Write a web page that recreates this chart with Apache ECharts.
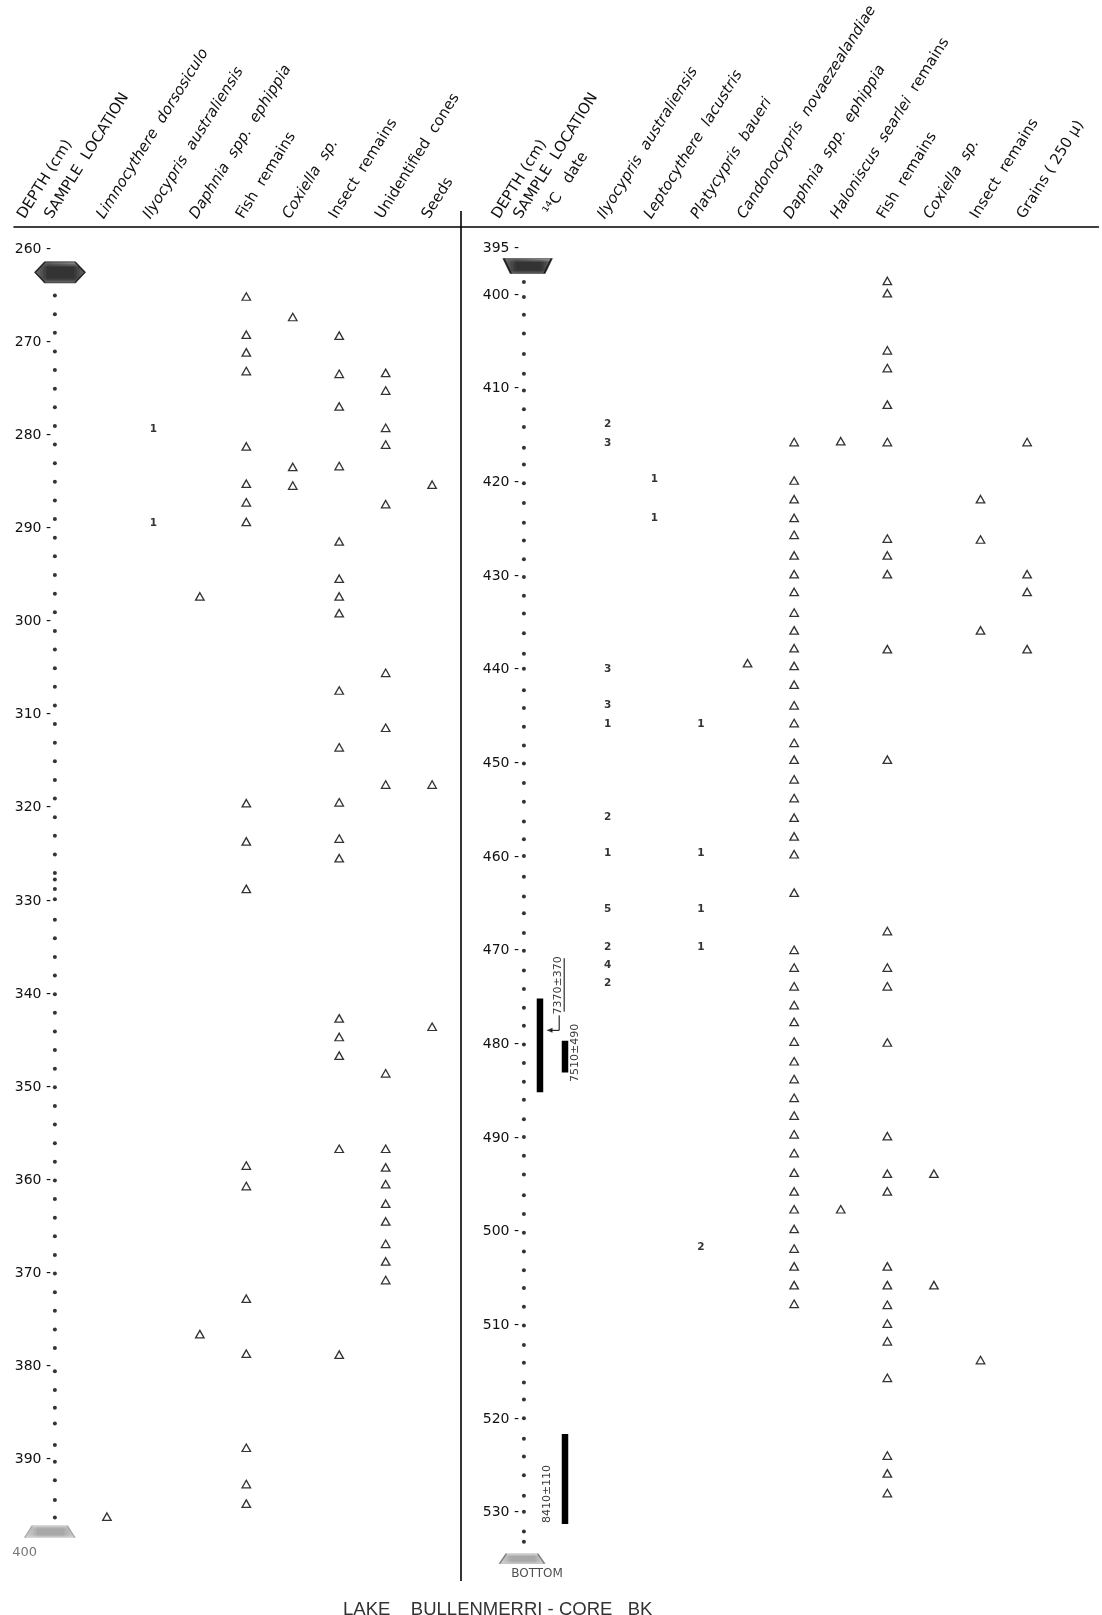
<!DOCTYPE html>
<html><head><meta charset="utf-8">
<script src="https://cdn.jsdelivr.net/npm/echarts@6/dist/echarts.min.js"></script>
<style>html,body{margin:0;padding:0;background:#fff}#c{width:1102px;height:1615px}</style>
</head><body><div id="c"></div>
<script>
// ================= DATA =================
// ---- Left section (260–400 cm) ----
const leftHeaders = ['DEPTH (cm)', 'SAMPLE  LOCATION', '{i|Limnocythere  dorsosiculo}', '{i|Ilyocypris  australiensis}',
  '{i|Daphnia  spp.  ephippia}', 'Fish  remains', '{i|Coxiella  sp.}', 'Insect  remains', 'Unidentified  cones', 'Seeds'];
const leftDepthTicks = [260,270,280,290,300,310,320,330,340,350,360,370,380,390,400];
const leftSamples = [265,267,269,271,273,275,277,279,281,283,285,287,289,291,293,295,297,299,301,303,305,307,309,311,313,315,317,319,321,323,325,327,327.7,328.7,329.8,332,334,336,338,340,342,344,346,348,350,352,354,356,358,360,362,364,366,368,370,372,374,376,378,380.5,382.5,384.4,386.1,388.4,390.2,392.2,394.3,396.2];
const leftLimnocythere = [396.1];
const leftIlyocyprisCounts = [[279.4,1],[289.4,1]];
const leftDaphnia = [297.3,376.5];
const leftFish = [265.1,269.2,271.1,273.1,281.2,285.2,287.2,289.3,319.5,323.6,328.7,358.4,360.6,372.7,378.6,388.7,392.6,394.7];
const leftCoxiella = [267.3,283.4,285.4];
const leftInsect = [269.3,273.4,276.9,283.3,291.4,295.4,297.3,299.1,307.4,313.5,319.4,323.3,325.4,342.6,344.6,346.6,356.6,378.7];
const leftCones = [273.3,275.2,279.2,281.0,287.4,305.5,311.4,317.5,348.5,356.6,358.6,360.4,362.5,364.4,366.8,368.7,370.7];
const leftSeeds = [285.3,317.5,343.5];

// ---- Right section (395–535 cm) ----
const rightHeaders = ['DEPTH (cm)', 'SAMPLE  LOCATION', ' \u00b9\u2074C   date', '{i|Ilyocypris  australiensis}',
  '{i|Leptocythere  lacustris}', '{i|Platycypris  baueri}', '{i|Candonocypris  novaezealandiae}', '{i|Daphnia  spp.  ephippia}',
  '{i|Haloniscus  searlei}  remains', 'Fish  remains', '{i|Coxiella  sp.}', 'Insect  remains', 'Grains ( 250 \u00b5)'];
const rightDepthTicks = [395,400,410,420,430,440,450,460,470,480,490,500,510,520,530];
const rightSamples = [398.6,400.2,402.1,404.1,406.3,408.4,410.2,412.2,414.1,416.3,418.1,420.1,422.2,424.3,426.2,428.2,430.1,432.1,434.0,436.1,438.3,439.9,442.2,444.1,446.1,448.1,450.0,452.1,454.1,456.2,458.1,459.9,462.1,464.2,466.0,468.1,470.0,472.1,474.1,476.1,478.0,480.0,482.0,484.0,485.9,488.0,489.9,491.9,493.9,496.1,498.1,500.1,502.1,504.1,506.0,508.0,510.0,512.1,514.0,516.1,517.9,519.9,522.1,524.0,526.0,528.2,529.9,532.0,533.1];
const rightIlyocyprisCounts = [[413.8,2],[415.8,3],[439.9,3],[443.8,3],[445.8,1],[455.7,2],[459.6,1],[465.6,5],[469.6,2],[471.5,4],[473.5,2]];
const rightLeptocythereCounts = [[419.7,1],[423.8,1]];
const rightPlatycyprisCounts = [[445.8,1],[459.6,1],[465.6,1],[469.6,1],[501.7,2]];
const rightCandonocypris = [439.3];
const rightDaphnia = [415.7,419.8,421.8,423.8,425.6,427.8,429.8,431.7,433.9,435.8,437.7,439.6,441.6,443.8,445.7,447.8,449.6,451.7,453.7,455.8,457.8,459.7,463.8,469.9,471.8,473.8,475.8,477.6,479.7,481.8,483.7,485.7,487.6,489.6,491.6,493.7,495.7,497.6,499.7,501.8,503.7,505.7,507.7];
const rightHaloniscus = [415.6,497.6];
const rightFish = [398.5,399.8,405.9,407.8,411.7,415.7,426.0,427.8,429.8,437.8,449.6,467.9,471.8,473.8,479.8,489.8,493.8,495.7,503.7,505.7,507.8,509.8,511.7,515.6,523.9,525.8,527.9];
const rightCoxiella = [493.8,505.7];
const rightInsect = [421.8,426.1,435.8,513.7];
const rightGrains = [415.7,429.8,431.7,437.8];
// 14C dates: depth range of each dated interval
const c14Labels = ['7370\u00b1370', '7510\u00b1490', '8410\u00b1110'];
const c14Top = [475.1, 479.6, 521.6];
const c14Bottom = [485.1, 483.0, 531.2];

const titleText = 'LAKE    BULLENMERRI - CORE   BK';

// ================= LAYOUT (column positions, in column units) =================
const L = {depth:-1.71, sample:-1.12, limno:0, ilyo:1, daph:2, fish:3, cox:4, insect:5, cones:6, seeds:7};
const R = {depth:-2.27, sample:-1.80, c14:-1.22, ilyo:0, lepto:1, platy:2, cando:3, daph:4, halo:5, fish:6, cox:7, insect:8, grains:9};
const leftHeaderPos = [L.depth, L.sample, L.limno, L.ilyo, L.daph, L.fish, L.cox, L.insect, L.cones, L.seeds];
const rightHeaderPos = [R.depth, R.sample, R.c14, R.ilyo, R.lepto, R.platy, R.cando, R.daph, R.halo, R.fish, R.cox, R.insect, R.grains];
const c14Layout = [{bar:-1.455, tx:-1.06, ty:473.7}, {bar:-0.918, tx:-0.704, ty:480.9}, {bar:-0.918, tx:-1.305, ty:528.0}];

const FONT = 'DejaVu Sans';
function hatch(dark){
  const c=document.createElement('canvas'); c.width=c.height=dark?4:5;
  const g=c.getContext('2d'); g.fillStyle='#fff'; g.fillRect(0,0,c.width,c.height);
  g.strokeStyle=dark?'#000':'#777'; g.lineWidth=dark?1.3:0.8;
  g.beginPath(); g.moveTo(0,0); g.lineTo(c.width,c.height); g.moveTo(c.width,0); g.lineTo(0,c.height); g.stroke();
  return c;
}
const darkPat = {image:hatch(true), repeat:'repeat'};
const lightPat = {image:hatch(false), repeat:'repeat'};

function tri(xi, col, arr){
  return {type:'scatter', xAxisIndex:xi, yAxisIndex:xi, clip:false, silent:true,
    symbol:'triangle', symbolSize:[8.5,7.5],
    itemStyle:{color:'#fff', borderColor:'#000', borderWidth:1.3},
    data: arr.map(d=>[col,d])};
}
function counts(xi, col, arr){
  return {type:'scatter', xAxisIndex:xi, yAxisIndex:xi, clip:false, silent:true,
    symbolSize:1, itemStyle:{color:'rgba(0,0,0,0)'},
    label:{show:true, position:'inside', formatter:p=>String(p.value[2]), fontFamily:FONT, fontSize:10.5, fontWeight:'bold', color:'#000'},
    data: arr.map(([d,n])=>[col,d,n])};
}
function dots(xi, col, arr){
  return {type:'scatter', xAxisIndex:xi, yAxisIndex:xi, clip:false, silent:true,
    symbol:'circle', symbolSize:4, itemStyle:{color:'#000'}, data: arr.map(d=>[col,d])};
}
function headerLabel(names, pos){
  return {show:true, customValues:pos, rotate:-58, align:'left', verticalAlign:'bottom', margin:5,
    fontFamily:FONT, fontSize:15, color:'#111',
    formatter:(v)=>{const k=pos.findIndex(p=>Math.abs(p-v)<1e-6); return k<0?'':names[k];},
    rich:{i:{fontFamily:FONT, fontSize:15, fontStyle:'italic', color:'#111'}}};
}
function depthLabel(ticks, last){
  return {show:true, customValues:ticks, margin:2, fontFamily:FONT, fontSize:14, color:'#111',
    formatter:(v)=> (last && v===last) ? '{f|'+v+'}' : v+' -',
    rich:{f:{fontFamily:FONT, fontSize:13, color:'#777', padding:[0,14,0,0]}}};
}

const series = [
  dots(0, L.sample, leftSamples),
  tri(0, L.limno, leftLimnocythere),
  counts(0, L.ilyo, leftIlyocyprisCounts),
  tri(0, L.daph, leftDaphnia),
  tri(0, L.fish, leftFish),
  tri(0, L.cox, leftCoxiella),
  tri(0, L.insect, leftInsect),
  tri(0, L.cones, leftCones),
  tri(0, L.seeds, leftSeeds),
  dots(1, R.sample, rightSamples),
  counts(1, R.ilyo, rightIlyocyprisCounts),
  counts(1, R.lepto, rightLeptocythereCounts),
  counts(1, R.platy, rightPlatycyprisCounts),
  tri(1, R.cando, rightCandonocypris),
  tri(1, R.daph, rightDaphnia),
  tri(1, R.halo, rightHaloniscus),
  tri(1, R.fish, rightFish),
  tri(1, R.cox, rightCoxiella),
  tri(1, R.insect, rightInsect),
  tri(1, R.grains, rightGrains),
  // core top / bottom markers
  {type:'scatter', xAxisIndex:0, yAxisIndex:0, clip:false, silent:true,
   symbol:'path://M0,5 L4,0 L16,0 L20,5 L16,10 L4,10 Z', symbolSize:[50,21], symbolKeepAspect:false,
   itemStyle:{color:darkPat, borderColor:'#000', borderWidth:1.2}, data:[[-1.01,262.5]]},
  {type:'scatter', xAxisIndex:0, yAxisIndex:0, clip:false, silent:true,
   symbol:'path://M3,0 L17,0 L20,10 L0,10 Z', symbolSize:[50,12], symbolKeepAspect:false,
   itemStyle:{color:lightPat, borderColor:'#999', borderWidth:0.8}, data:[[-1.23,397.7]]},
  {type:'scatter', xAxisIndex:1, yAxisIndex:1, clip:false, silent:true,
   symbol:'path://M0,0 L20,0 L17,10 L3,10 Z', symbolSize:[48,15], symbolKeepAspect:false,
   itemStyle:{color:darkPat, borderColor:'#000', borderWidth:1.2}, data:[[-1.72,396.9]]},
  {type:'scatter', xAxisIndex:1, yAxisIndex:1, clip:false, silent:true,
   symbol:'path://M3,0 L17,0 L20,10 L0,10 Z', symbolSize:[45,10], symbolKeepAspect:false,
   itemStyle:{color:lightPat, borderColor:'#666', borderWidth:0.8},
   label:{show:true, position:'bottom', distance:4, offset:[15,0], formatter:'BOTTOM', fontFamily:FONT, fontSize:12, color:'#222'},
   data:[[-1.84,534.9]]},
];
// 14C date bars and labels
c14Labels.forEach((lab,k)=>{
  series.push({type:'line', xAxisIndex:1, yAxisIndex:1, silent:true, symbol:'none', animation:false,
    lineStyle:{color:'#000', width:6.5, cap:'butt'},
    data:[[c14Layout[k].bar, c14Top[k]],[c14Layout[k].bar, c14Bottom[k]]]});
  series.push({type:'scatter', xAxisIndex:1, yAxisIndex:1, clip:false, silent:true, symbolSize:1,
    itemStyle:{color:'rgba(0,0,0,0)'},
    label:{show:true, position:'inside', rotate:90, formatter:p=>p.value[2], fontFamily:FONT, fontSize:11, color:'#000'},
    data:[[c14Layout[k].tx, c14Layout[k].ty, lab]]});
});
// underline + leader of the first date label
series.push({type:'line', xAxisIndex:1, yAxisIndex:1, silent:true, symbol:'none',
  lineStyle:{color:'#000', width:1}, data:[[-0.936,470.8],[-0.936,476.5]]});
series.push({type:'line', xAxisIndex:1, yAxisIndex:1, silent:true, symbol:'none',
  lineStyle:{color:'#000', width:1}, data:[[-1.043,476.9],[-1.043,478.5],[-1.22,478.5]]});
series.push({type:'scatter', xAxisIndex:1, yAxisIndex:1, clip:false, silent:true,
  symbol:'triangle', symbolSize:[5,6], symbolRotate:90, itemStyle:{color:'#000'}, data:[[-1.25,478.5]]});

const option = {
  animation:false,
  backgroundColor:'#fff',
  title:{text:titleText, left:338, top:1595,
    textStyle:{fontFamily:'Liberation Sans', fontSize:18.5, fontWeight:'normal', color:'#333'}},
  grid:[
    {left:14, top:249, width:446, height:1304, outerBoundsMode:'none', containLabel:false},
    {left:461, top:248.2, width:637.4, height:1358.2, outerBoundsMode:'none', containLabel:false}
  ],
  xAxis:[
    {gridIndex:0, type:'value', position:'top', min:-2, max:7.6, offset:22.5,
     axisLine:{show:true, onZero:false, lineStyle:{color:'#000', width:1.6}}, axisTick:{show:false},
     splitLine:{show:false}, axisLabel:headerLabel(leftHeaders, leftHeaderPos)},
    {gridIndex:1, type:'value', position:'top', min:-3.15, max:10.53, offset:21.7,
     axisLine:{show:true, onZero:false, lineStyle:{color:'#000', width:1.6}}, axisTick:{show:false},
     splitLine:{show:false}, axisLabel:headerLabel(rightHeaders, rightHeaderPos)}
  ],
  yAxis:[
    {gridIndex:0, type:'value', inverse:true, min:260, max:400, offset:-39,
     axisLine:{show:false}, axisTick:{show:false}, splitLine:{show:false},
     axisLabel:depthLabel(leftDepthTicks, 400)},
    {gridIndex:1, type:'value', inverse:true, min:395, max:540, offset:-60,
     axisLine:{show:false}, axisTick:{show:false}, splitLine:{show:false},
     axisLabel:depthLabel(rightDepthTicks, null)}
  ],
  graphic:[
    {type:'line', silent:true, shape:{x1:461, y1:211, x2:461, y2:1581}, style:{stroke:'#000', lineWidth:1.6}}
  ],
  series: series
};
const chart = echarts.init(document.getElementById('c'), null, {renderer:'canvas', width:1102, height:1615});
chart.setOption(option);
</script>
</body></html>
